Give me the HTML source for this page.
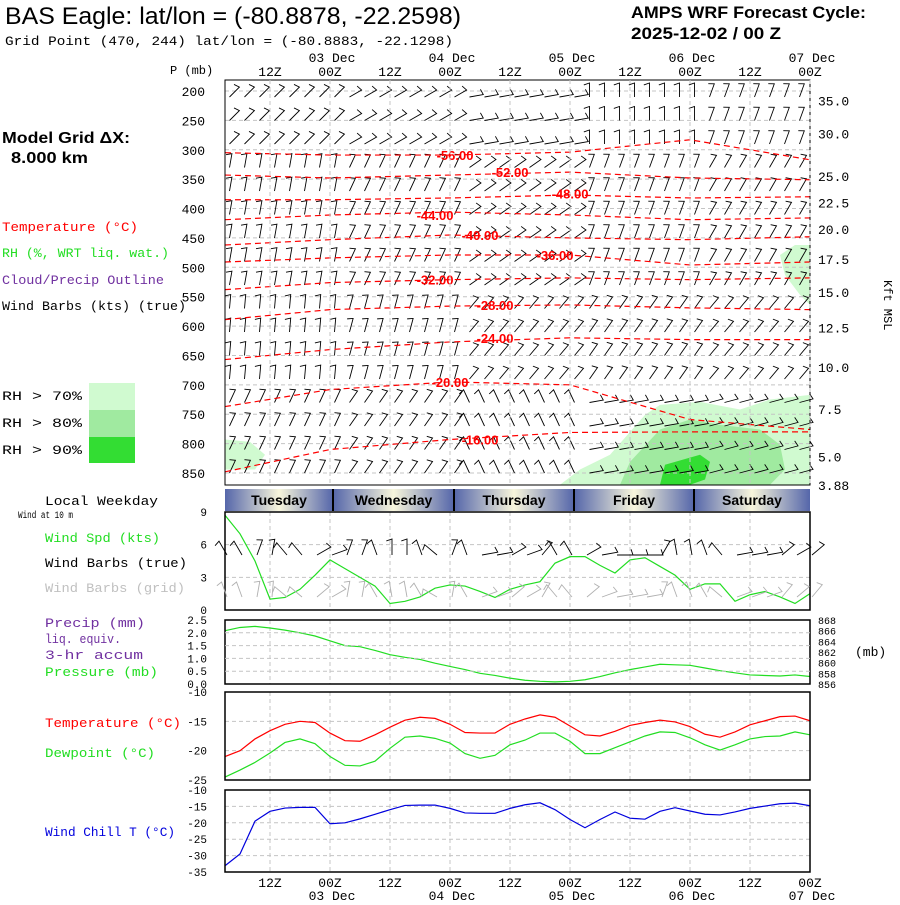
<!DOCTYPE html>
<html><head><meta charset="utf-8"><style>
html,body{margin:0;padding:0;background:#fff;}
svg text{font-family:"Liberation Mono","DejaVu Sans Mono",monospace;}
.t{font-family:"Liberation Sans",sans-serif;}
</style></head><body>
<svg id="chart" width="900" height="900" viewBox="0 0 900 900" xmlns="http://www.w3.org/2000/svg">
<defs>
<linearGradient id="dayg" x1="0" x2="1" y1="0" y2="0">
<stop offset="0" stop-color="#5566aa"/><stop offset="0.5" stop-color="#f8f6dc"/><stop offset="1" stop-color="#5566aa"/>
</linearGradient>
</defs>
<rect width="900" height="900" fill="#fff"/>
<text class="t" x="5" y="24" font-size="24" textLength="456" lengthAdjust="spacingAndGlyphs">BAS Eagle:  lat/lon = (-80.8878, -22.2598)</text>
<text x="5" y="45" font-size="13" textLength="448" lengthAdjust="spacingAndGlyphs">Grid Point (470, 244) lat/lon = (-80.8883, -22.1298)</text>
<text class="t" x="631" y="18" font-size="17" font-weight="bold" textLength="235" lengthAdjust="spacingAndGlyphs">AMPS WRF Forecast Cycle:</text>
<text class="t" x="631" y="39" font-size="17" font-weight="bold" textLength="150" lengthAdjust="spacingAndGlyphs">2025-12-02 / 00  Z</text>
<text class="t" x="2" y="143" font-size="16" font-weight="bold" textLength="128" lengthAdjust="spacingAndGlyphs">Model Grid ΔX:</text>
<text class="t" x="11" y="163" font-size="16" font-weight="bold" textLength="77" lengthAdjust="spacingAndGlyphs">8.000 km</text>
<g font-size="13">
<text x="2" y="231" fill="#ff0000" textLength="136" lengthAdjust="spacingAndGlyphs">Temperature (°C)</text>
<text x="2" y="257" fill="#22dd22" textLength="167" lengthAdjust="spacingAndGlyphs">RH (%, WRT liq. wat.)</text>
<text x="2" y="284" fill="#7030a0" textLength="162" lengthAdjust="spacingAndGlyphs">Cloud/Precip Outline</text>
<text x="2" y="310" fill="#000" textLength="184" lengthAdjust="spacingAndGlyphs">Wind Barbs (kts) (true)</text>
<text x="2" y="400" textLength="80" lengthAdjust="spacingAndGlyphs">RH &gt; 70%</text>
<text x="2" y="427" textLength="80" lengthAdjust="spacingAndGlyphs">RH &gt; 80%</text>
<text x="2" y="454" textLength="80" lengthAdjust="spacingAndGlyphs">RH &gt; 90%</text>
</g>
<rect x="89" y="383" width="46" height="27" fill="#d0fad0"/>
<rect x="89" y="410" width="46" height="27" fill="#a0eaa0"/>
<rect x="89" y="437" width="46" height="26" fill="#33dd33"/>
<g font-size="13">
<text x="45" y="505" textLength="113" lengthAdjust="spacingAndGlyphs">Local Weekday</text>
<text x="18" y="518" font-size="10" textLength="55" lengthAdjust="spacingAndGlyphs">Wind at 10 m</text>
<text x="45" y="542" fill="#22dd22" textLength="115" lengthAdjust="spacingAndGlyphs">Wind Spd (kts)</text>
<text x="45" y="567" textLength="142" lengthAdjust="spacingAndGlyphs">Wind Barbs (true)</text>
<text x="45" y="592" fill="#c0c0c0" textLength="140" lengthAdjust="spacingAndGlyphs">Wind Barbs (grid)</text>
<text x="45" y="627" fill="#7030a0" textLength="100" lengthAdjust="spacingAndGlyphs">Precip (mm)</text>
<text x="45" y="643" fill="#7030a0" textLength="76" lengthAdjust="spacingAndGlyphs">liq. equiv.</text>
<text x="45" y="659" fill="#7030a0" textLength="98" lengthAdjust="spacingAndGlyphs">3-hr accum</text>
<text x="45" y="676" fill="#22dd22" textLength="113" lengthAdjust="spacingAndGlyphs">Pressure (mb)</text>
<text x="45" y="727" fill="#ff0000" textLength="136" lengthAdjust="spacingAndGlyphs">Temperature (°C)</text>
<text x="45" y="757" fill="#22dd22" textLength="110" lengthAdjust="spacingAndGlyphs">Dewpoint (°C)</text>
<text x="45" y="836" fill="#0000dd" textLength="130" lengthAdjust="spacingAndGlyphs">Wind Chill T (°C)</text>
<text x="855" y="656">(mb)</text>
<text x="170" y="74" font-size="12">P (mb)</text>
<text transform="translate(884,280) rotate(90)" font-size="12">Kft MSL</text>
</g>
<g id="layer"></g>
</svg>
<script>
// ---- time axis ----
const hourLabels = ["12Z","00Z","12Z","00Z","12Z","00Z","12Z","00Z","12Z","00Z"];
const hourLabelHours = [9,21,33,45,57,69,81,93,105,117];
const dateLabels = ["03 Dec","04 Dec","05 Dec","06 Dec","07 Dec"];
const dateLabelHours = [21,45,69,93,117];
const weekdays = ["Tuesday","Wednesday","Thursday","Friday","Saturday"];
const weekdayStartHours = [0,21.6,45.8,69.8,93.8];
// ---- upper panel ----
const pressureTicks = [200,250,300,350,400,450,500,550,600,650,700,750,800,850];
const kftLabels = ["35.0","30.0","25.0","22.5","20.0","17.5","15.0","12.5","10.0","7.5","5.0","3.88"];
const kftPressures = [216,272,345,390,435,486,542,602,670,741,822,870];
const isoLevels = [-56,-52,-48,-44,-40,-36,-32,-28,-24,-20,-16];
const isoHours = [0,21,45,69,93,117];
const iso56 = [305,309,309,304,283,317];
const iso52 = [343,348,343,338,348,351];
const iso48 = [385,385,382,377,382,380];
const iso44 = [419,411,406,411,419,416];
const iso40 = [462,453,445,450,453,448];
const iso36 = [491,484,479,479,496,491];
const iso32 = [538,526,521,518,521,518];
const iso28 = [589,572,566,564,569,572];
const iso24 = [657,640,627,620,623,623];
const iso20 = [737,708,695,700,759,776];
const iso16 = [848,810,793,781,780,780];
const isoLabelHours = [46,57,69,42,51,66,42,54,54,45,51];
const isoLabelP = [309,338,374,411,445,479,521,564,620,695,793];
const rh70Hours = [67,71,77,84,87,95,103,109,117,117,66];
const rh70P = [870,844,819,751,734,729,742,725,717,870,870];
const rh80Hours = [79,81,87,93,99,107,111,112,109];
const rh80P = [870,831,776,759,768,776,802,844,870];
const rh90Hours = [87,88,95,97,96,93];
const rh90P = [870,836,819,831,861,870];
const rhEdgeHours = [111,114,117,117,115,112];
const rhEdgeP = [479,462,462,564,547,513];
const rhLeftHours = [0,5,8,6,0];
const rhLeftP = [793,797,819,844,844];
// barb directions (staff angle deg from vertical) per day segment, per row band
const barbRowsTop = [45,60,80,0,20];
const barbRowsUpper = [10,25,55,20,30];
const barbRowsMid = [5,15,40,35,40];
const barbRowsLow = [25,35,-25,80,75];
// ---- surface panels ----
const windSpd = [8.7,7.0,4.5,1.0,1.15,1.9,3.2,4.6,3.8,3.0,2.2,0.6,0.8,1.2,2.0,2.3,2.2,1.7,1.15,1.9,2.3,2.6,4.3,4.9,4.9,4.1,3.4,4.6,4.8,4.0,3.2,1.9,2.4,2.4,0.8,1.4,1.7,1.2,0.6,1.5];
const windDirTrue = [-30,-30,20,10,-40,-40,60,70,20,20,-20,0,0,-20,-50,20,-20,80,80,60,70,40,-30,-30,60,80,90,90,90,30,-10,-10,-20,-40,80,80,80,50,60,50];
const windDirGrid = [-20,-20,10,5,-50,-50,50,60,10,10,-30,-10,-10,-30,-60,10,-30,70,70,50,60,30,-40,-40,50,70,80,80,80,20,-20,-20,-30,-50,70,70,70,40,50,40];
const pressure = [866.0,866.6,866.8,866.5,866.1,865.6,865.0,864.1,863.2,863.0,862.3,861.5,861.0,860.6,859.9,859.3,858.7,858.0,857.6,857.1,856.7,856.5,856.4,856.5,856.8,857.4,858.1,858.7,859.2,859.7,859.6,859.5,859.0,858.5,858.1,857.7,857.6,857.5,857.7,857.4];
const temperature = [-21.0,-20.0,-18.0,-16.6,-15.5,-15.0,-15.2,-17.0,-18.3,-18.4,-17.3,-16.0,-14.8,-14.3,-14.5,-15.5,-16.9,-17.0,-17.0,-15.5,-14.6,-13.9,-14.3,-15.8,-17.3,-17.5,-16.7,-15.7,-15.2,-14.8,-15.1,-15.9,-17.2,-17.7,-16.8,-15.6,-14.9,-14.2,-14.1,-14.9];
const dewpoint = [-24.5,-23.3,-22.0,-20.4,-18.6,-18.0,-18.8,-21.0,-22.5,-22.6,-21.8,-19.6,-17.7,-17.5,-17.9,-18.7,-20.5,-21.3,-20.8,-19.0,-18.2,-17.0,-17.0,-18.4,-20.5,-20.5,-19.5,-18.5,-17.5,-16.8,-16.9,-17.8,-19.0,-19.9,-19.0,-18.0,-17.6,-17.5,-16.8,-17.3];
const windChill = [-33.1,-29.5,-19.5,-16.5,-15.5,-15.3,-15.3,-20.3,-20.0,-18.8,-17.4,-16.0,-14.7,-14.6,-14.6,-15.6,-17.0,-17.1,-17.1,-15.6,-14.5,-13.9,-16.0,-19.0,-21.5,-19.0,-16.7,-18.6,-18.9,-16.5,-15.4,-16.4,-17.4,-17.6,-16.7,-15.6,-14.9,-14.2,-14.0,-14.8];
const windTicks = [0,3,6,9];
const precipTicks = ["0.0","0.5","1.0","1.5","2.0","2.5"];
const presTicks = [856,858,860,862,864,866,868];
const tempTicks = [-10,-15,-20,-25];
const chillTicks = [-10,-15,-20,-25,-30,-35];

const NS = "http://www.w3.org/2000/svg";
const layer = document.getElementById('layer');
const X0 = 225, X1 = 810;
const xS = h => X0 + (X1 - X0) * h / 117;
const yP = p => 91 + (p - 200) * 0.5877;
function mk(tag, attrs, parent) {
  const e = document.createElementNS(NS, tag);
  for (const k in attrs) e.setAttribute(k, attrs[k]);
  (parent || layer).appendChild(e);
  return e;
}
function lin(d0, d1, r0, r1) { return v => r0 + (v - d0) * (r1 - r0) / (d1 - d0); }

// ---- Upper panel ----
const up = mk('g', {});


function poly(hours, ps, fill, name) {
  const pts = hours.map((h, i) => xS(h) + ',' + yP(ps[i])).join(' ');
  const e = mk('polygon', { points: pts, fill: fill }, up);
  
  
}
poly(rh70Hours, rh70P, '#d0fad0', 'rh70-region');
poly(rhEdgeHours, rhEdgeP, '#d0fad0', 'rh70-region-upper');
poly(rhLeftHours, rhLeftP, '#d0fad0', 'rh70-region-left');
poly(rh80Hours, rh80P, '#a0eaa0', 'rh80-region');
poly(rh90Hours, rh90P, '#33dd33', 'rh90-region');
pressureTicks.forEach(p => {
  const g = mk('line', { x1: X0, x2: X1, y1: yP(p), y2: yP(p), stroke: '#c4c4c4', 'stroke-dasharray': '4,3' }, up);
  
  
  const t = mk('text', { x: 205, y: yP(p) + 5, 'text-anchor': 'end', 'font-size': 13 }, up);
  
  
  t.textContent = p;
});
kftLabels.forEach((l, i) => {
  const t = mk('text', { x: 818, y: yP(kftPressures[i]) + 5, 'font-size': 13 }, up);
  
  
  t.textContent = l;
});
hourLabelHours.forEach(h => {
  [[80, 485], [512, 610], [620, 684], [692, 780], [790, 872]].forEach(r => {
    const g = mk('line', { x1: xS(h), x2: xS(h), y1: r[0], y2: r[1], stroke: '#c4c4c4', 'stroke-dasharray': '4,3' });
    
    
  });
});
function barb(x, y, ang, len, col, parent, name) {
  const a = ang * Math.PI / 180;
  const ex = x + len * Math.sin(a), ey = y - len * Math.cos(a);
  const fx = ex + 6 * Math.sin(a - 1.9), fy = ey - 6 * Math.cos(a - 1.9);
  const e = mk('path', { d: `M${x},${y}L${ex},${ey}L${fx},${fy}`, fill: 'none', stroke: col, 'stroke-width': 0.9 }, parent);
  
  
}
const barbG = mk('g', {}, up);


for (let r = 0; r < 17; r++) {
  const band = r < 3 ? barbRowsTop : r < 9 ? barbRowsUpper : r < 13 ? barbRowsMid : barbRowsLow;
  for (let i = 0; i < 39; i++) {
    const h = i * 3 + 1.5;
    const seg = Math.min(4, Math.floor(h / 24));
    barb(xS(h) - 3, 97 + r * 23.5, band[seg], 14, '#000', barbG, 'wind-barb');
  }
}
const isoData = [iso56, iso52, iso48, iso44, iso40, iso36, iso32, iso28, iso24, iso20, iso16];
isoData.forEach((arr, k) => {
  const pts = arr.map((p, i) => xS(isoHours[i]) + ',' + yP(p)).join(' ');
  const e = mk('polyline', { points: pts, fill: 'none', stroke: '#ff0000', 'stroke-dasharray': '6,4', 'stroke-width': 1.2 }, up);
  
  
  const t = mk('text', { x: xS(isoLabelHours[k]), y: yP(isoLabelP[k]) + 5, fill: '#ff0000', 'font-size': 13, 'font-weight': 'bold', 'text-anchor': 'middle', class: 't' }, up);
  
  
  t.textContent = isoLevels[k].toFixed(2);
});
const upFrame = mk('rect', { x: X0, y: 80, width: X1 - X0, height: 405, fill: 'none', stroke: '#000' }, up);


hourLabels.forEach((l, i) => {
  const t = mk('text', { x: xS(hourLabelHours[i]), y: 76, 'text-anchor': 'middle', 'font-size': 13 });
  
  
  t.textContent = l;
  const b = mk('text', { x: xS(hourLabelHours[i]), y: 887, 'text-anchor': 'middle', 'font-size': 13 });
  
  
  b.textContent = l;
});
dateLabels.forEach((l, i) => {
  const t = mk('text', { x: xS(dateLabelHours[i]) + 2, y: 62, 'text-anchor': 'middle', 'font-size': 13 });
  
  
  t.textContent = l;
  const b = mk('text', { x: xS(dateLabelHours[i]) + 2, y: 900, 'text-anchor': 'middle', 'font-size': 13 });
  
  
  b.textContent = l;
});
weekdays.forEach((d, i) => {
  const x0 = xS(weekdayStartHours[i]);
  const x1 = i < 4 ? xS(weekdayStartHours[i + 1]) : X1;
  const r = mk('rect', { x: x0, y: 489, width: x1 - x0, height: 22, fill: 'url(#dayg)' });
  
  
  if (i > 0) {
    const s = mk('line', { x1: x0, x2: x0, y1: 489, y2: 511, stroke: '#000', 'stroke-width': 2 });
    
    
  }
  const t = mk('text', { x: (x0 + x1) / 2, y: 505, 'text-anchor': 'middle', 'font-size': 14, class: 't', 'font-weight': 'bold' });
  
  
  t.textContent = d;
});
function panel(name, top, bot, d0, d1, series, colors, ticks, tickFmt) {
  const g = mk('g', {});
  
  
  const y = lin(d0, d1, bot, top);
  ticks.forEach(v => {
    if (v !== d0 && v !== d1) {
      const l = mk('line', { x1: X0, x2: X1, y1: y(v), y2: y(v), stroke: '#c4c4c4', 'stroke-dasharray': '4,3' }, g);
      
      
    }
    const t = mk('text', { x: 207, y: y(v) + 4, 'text-anchor': 'end', 'font-size': 11 }, g);
    
    
    t.textContent = tickFmt ? tickFmt(v) : v;
  });
  series.forEach((s, k) => {
    const pts = s.map((v, i) => xS(i * 3) + ',' + y(v)).join(' ');
    const p = mk('polyline', { points: pts, fill: 'none', stroke: colors[k], 'stroke-width': 1.2 }, g);
    
    
  });
  const f = mk('rect', { x: X0, y: top, width: X1 - X0, height: bot - top, fill: 'none', stroke: '#000', 'stroke-width': 1.5 }, g);
  
  
  return g;
}
const wg = panel('wind-panel', 512, 610, 0, 9, [windSpd], ['#22dd22'], windTicks);
windDirTrue.forEach((a, i) => barb(xS(i * 3) + 2, 555, a, 16, '#000', wg, 'surface-wind-barb'));
windDirGrid.forEach((a, i) => barb(xS(i * 3) + 2, 597, a, 16, '#b0b0b0', wg, 'grid-wind-barb'));
const pg = panel('pressure-panel', 620, 684, 856, 868, [pressure], ['#22dd22'], [], null);
precipTicks.forEach((l, i) => {
  const yy = 684 - i * 12.8;
  const t = mk('text', { x: 207, y: yy + 4, 'text-anchor': 'end', 'font-size': 11 }, pg);
  
  
  t.textContent = l;
  if (i > 0 && i < 5) {
    const gl = mk('line', { x1: X0, x2: X1, y1: yy, y2: yy, stroke: '#c4c4c4', 'stroke-dasharray': '4,3' }, pg);
    
    
  }
});
const yPres = lin(856, 868, 684, 620);
presTicks.forEach(v => {
  const t = mk('text', { x: 818, y: yPres(v) + 4, 'font-size': 10 }, pg);
  
  
  t.textContent = v;
});
panel('temperature-panel', 692, 780, -25, -10, [temperature, dewpoint], ['#ff0000', '#22dd22'], tempTicks);
panel('wind-chill-panel', 790, 872, -35, -10, [windChill], ['#0000dd'], chillTicks);
</script>
</body></html>
